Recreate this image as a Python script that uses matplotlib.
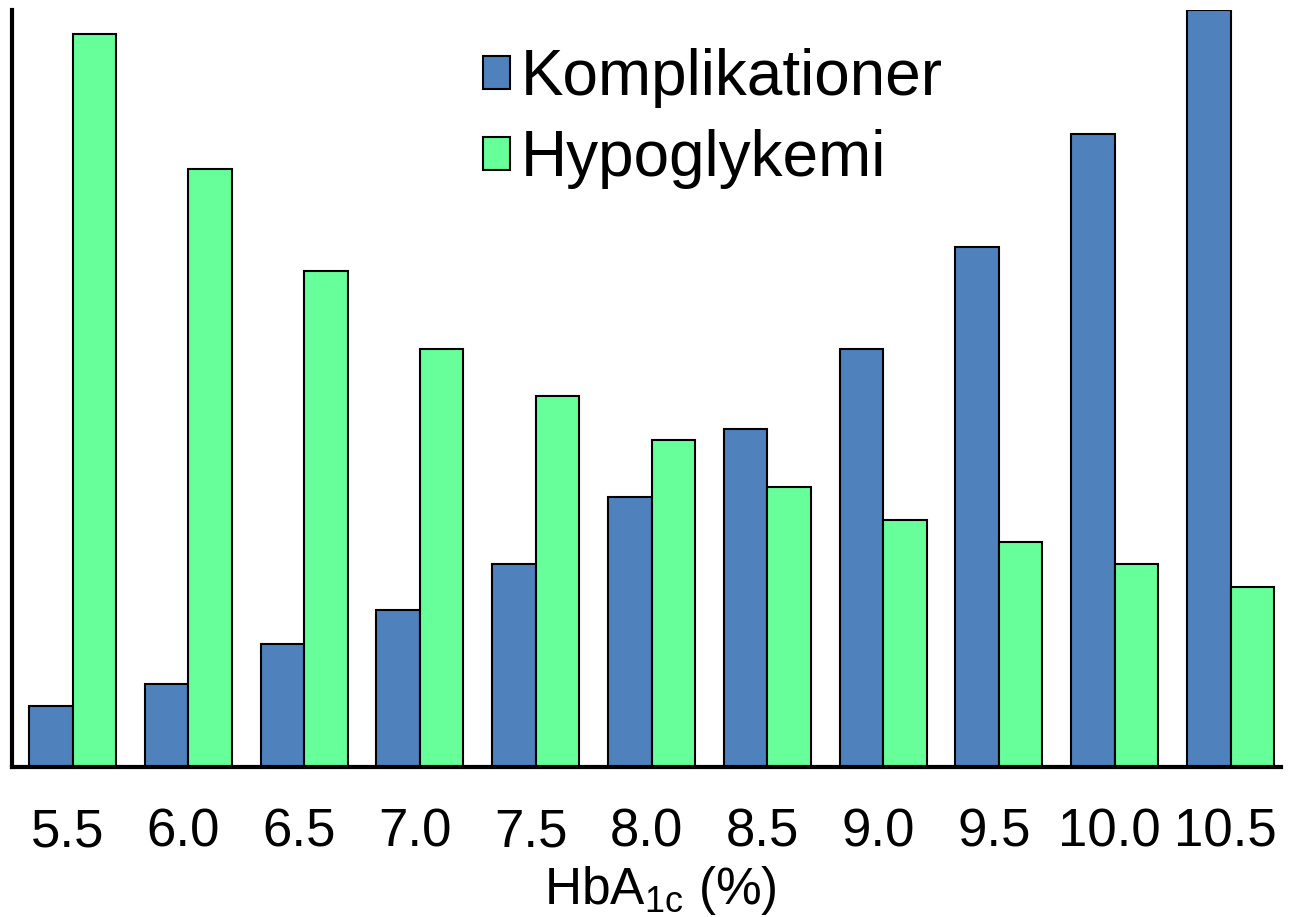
import numpy as np
import matplotlib
matplotlib.use("Agg")
import matplotlib.pyplot as plt
import matplotlib.transforms as mtransforms

plt.rcParams["font.family"] = ["Liberation Sans", "DejaVu Sans"]
plt.rcParams["mathtext.fontset"] = "custom"
plt.rcParams["mathtext.rm"] = "Liberation Sans"
plt.rcParams["mathtext.default"] = "regular"

# HbA1c-nivå och relativa risker
hba1c = ["5.5", "6.0", "6.5", "7.0", "7.5", "8.0", "8.5", "9.0", "9.5", "10.0", "10.5"]
komplikationer = [61, 83, 123, 157, 203, 270, 338, 418, 520, 633, 757]
hypoglykemi = [733, 598, 496, 418, 371, 327, 280, 247, 225, 203, 180]

fig = plt.figure(figsize=(12.93, 9.17), dpi=100)
ax = fig.add_axes([12 / 1293, 1 - 767 / 917, 1269 / 1293, 757 / 917])

x = np.arange(len(hba1c))
w = 0.376
ax.bar(x - w / 2, komplikationer, w, color="#4F81BD", edgecolor="black", lw=1.5,
       label="Komplikationer", zorder=2)
ax.bar(x + w / 2, hypoglykemi, w, color="#66FF99", edgecolor="black", lw=1.5,
       label="Hypoglykemi", zorder=2)

ax.set_xlim(-0.523, 10.436)
ax.set_ylim(0, 757)
ax.set_yticks([])
ax.set_xticks(x)
ax.set_xticklabels(hba1c, fontsize=38)
ax.tick_params(axis="x", length=0, pad=29)
# etiketterna sitter lite till vänster om staplarna i originalet
shift = mtransforms.ScaledTranslation(-5 / 100, 0, fig.dpi_scale_trans)
for lab in ax.get_xticklabels():
    lab.set_transform(lab.get_transform() + shift)

for s in ["top", "right"]:
    ax.spines[s].set_visible(False)
for s in ["left", "bottom"]:
    ax.spines[s].set_linewidth(3)
    ax.spines[s].set_zorder(3)

ax.set_xlabel("HbA$_{1c}$ (%)", fontsize=37)
ax.xaxis.set_label_coords(0.511, -0.128)

leg = ax.legend(loc="upper left", bbox_to_anchor=(483 / 1293, 1 - 48 / 917),
                bbox_transform=fig.transFigure, frameon=False, fontsize=46,
                handlelength=0.42, handleheight=0.42, handletextpad=0.17,
                labelspacing=0.33, borderpad=0, borderaxespad=0)

fig.savefig("out.png", dpi=100)
